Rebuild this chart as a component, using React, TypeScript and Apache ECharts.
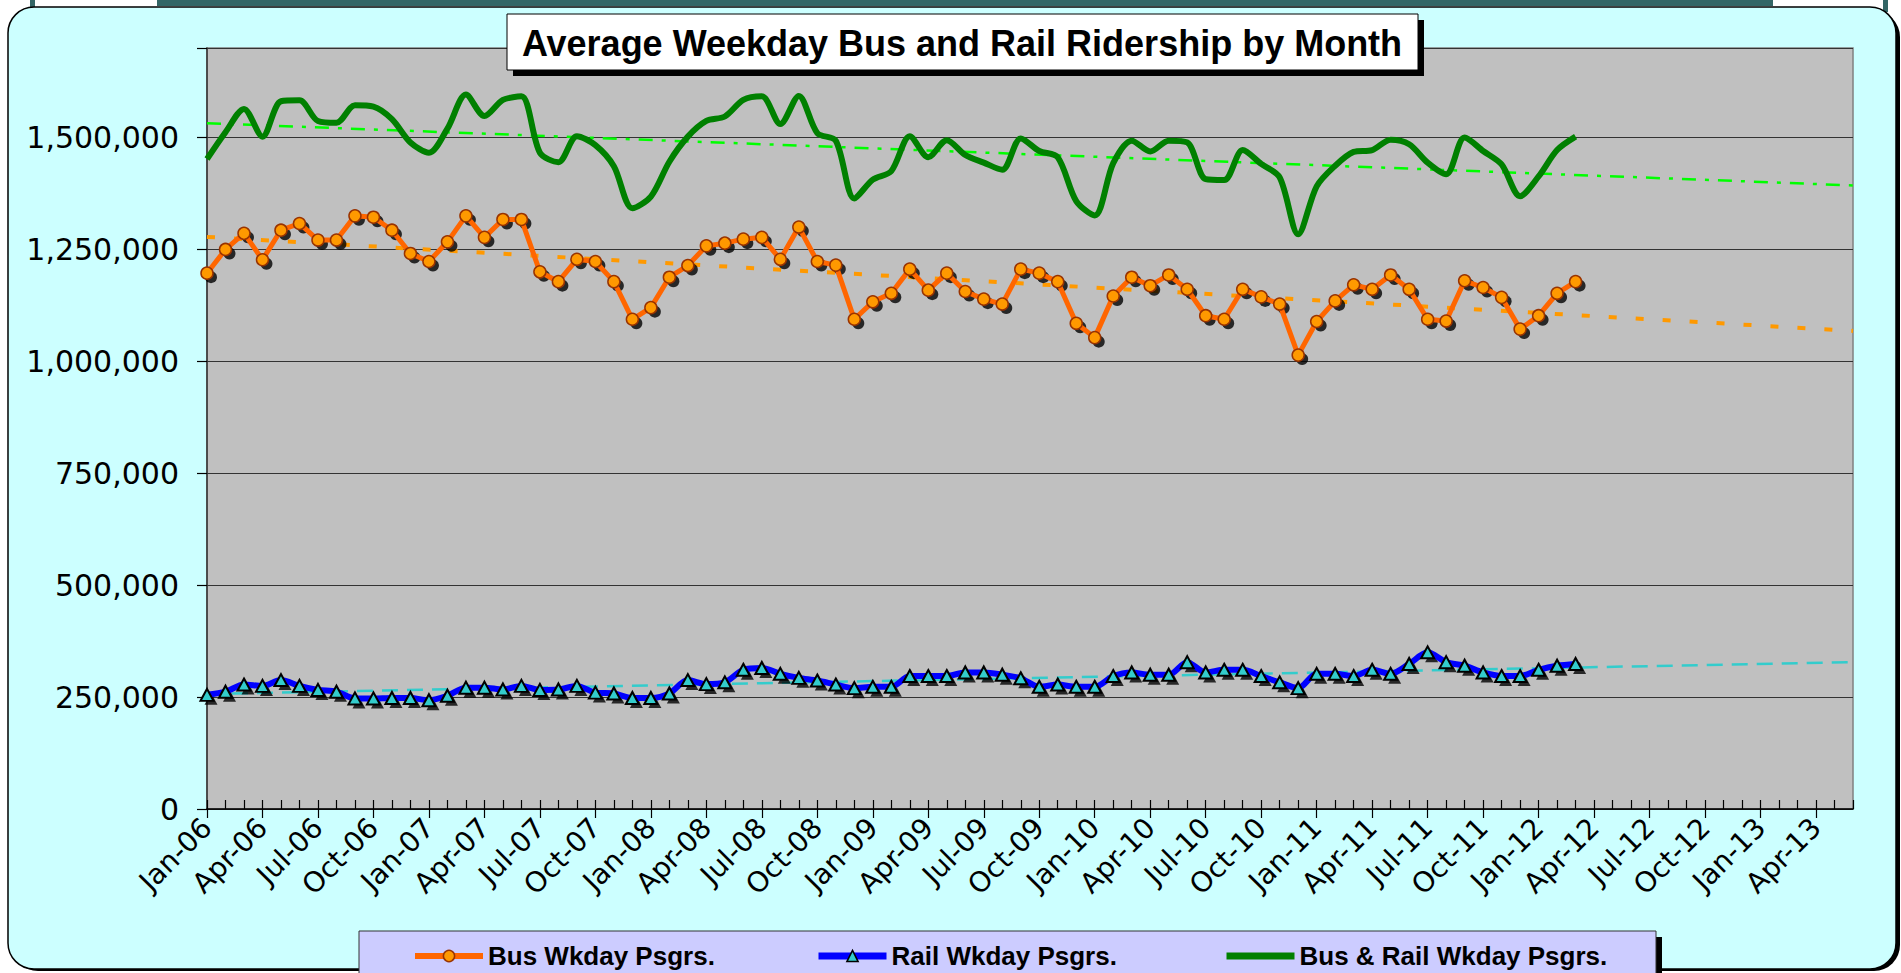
import React, { useEffect, useRef } from 'react';
import * as echarts from 'echarts';

const MONTHS = ['Jan', 'Feb', 'Mar', 'Apr', 'May', 'Jun', 'Jul', 'Aug', 'Sep', 'Oct', 'Nov', 'Dec'];
const YEARS = ['06', '07', '08', '09', '10', '11', '12', '13'];
const categories: string[] = [];
YEARS.forEach((y) => MONTHS.forEach((m) => categories.push(`${m}-${y}`)));
const axisCategories = categories.slice(0, 90); // Jan-06 .. Jun-13

const TITLE = 'Average Weekday Bus and Rail Ridership by Month';
const BUS_NAME = 'Bus Wkday Psgrs.';
const RAIL_NAME = 'Rail Wkday Psgrs.';
const TOTAL_NAME = 'Bus & Rail Wkday Psgrs.';

// Jan-06 .. Mar-12
const busRiders = [
  1197000, 1250000, 1286000, 1227000, 1293000, 1308000, 1271000, 1271000, 1325000, 1322000, 1293000, 1241000,
  1223000, 1267000, 1325000, 1277000, 1317000, 1317000, 1200000, 1178000, 1228000, 1223000, 1178000, 1094000,
  1120000, 1188000, 1214000, 1258000, 1264000, 1273000, 1277000, 1228000, 1300000, 1223000, 1215000, 1094000,
  1133000, 1152000, 1206000, 1159000, 1197000, 1156000, 1139000, 1128000, 1206000, 1197000, 1178000, 1085000,
  1053000, 1146000, 1188000, 1169000, 1193000, 1161000, 1102000, 1094000, 1161000, 1144000, 1128000, 1014000,
  1089000, 1135000, 1171000, 1161000, 1193000, 1161000, 1094000, 1090000, 1180000, 1165000, 1143000, 1072000,
  1102000, 1152000, 1178000,
];

const railRiders = [
  255000, 262000, 278000, 275000, 288000, 275000, 266000, 262000, 247000, 247000, 248000, 248000,
  243000, 253000, 271000, 271000, 267000, 275000, 266000, 267000, 275000, 260000, 258000, 248000,
  248000, 258000, 288000, 279000, 283000, 311000, 315000, 302000, 293000, 287000, 278000, 270000,
  273000, 273000, 297000, 297000, 297000, 305000, 305000, 300000, 292000, 273000, 278000, 273000,
  273000, 297000, 305000, 300000, 300000, 328000, 305000, 311000, 311000, 297000, 283000, 270000,
  302000, 302000, 297000, 311000, 302000, 324000, 350000, 328000, 320000, 305000, 297000, 297000,
  311000, 320000, 324000,
];

const totalRiders = [
  1452000, 1512000, 1564000, 1502000, 1581000, 1583000, 1537000, 1533000, 1572000, 1569000, 1541000, 1489000,
  1466000, 1520000, 1596000, 1548000, 1584000, 1592000, 1466000, 1445000, 1503000, 1483000, 1436000, 1342000,
  1368000, 1446000, 1502000, 1537000, 1547000, 1584000, 1592000, 1530000, 1593000, 1510000, 1493000, 1364000,
  1406000, 1425000, 1503000, 1456000, 1494000, 1461000, 1444000, 1428000, 1498000, 1470000, 1456000, 1358000,
  1326000, 1443000, 1493000, 1469000, 1493000, 1489000, 1407000, 1405000, 1472000, 1441000, 1411000, 1284000,
  1391000, 1437000, 1468000, 1472000, 1495000, 1485000, 1444000, 1418000, 1500000, 1470000, 1440000, 1369000,
  1413000, 1472000, 1502000,
];

// trend line end points (Jan-06, Jun-13)
const trendEnds = ['Jan-06', 'Jun-13'];
const busTrend = [1278000, 1068000];
const railTrend = [257000, 328000];
const totalTrend = [1532000, 1393000];

const yTicks = { min: 0, max: 1700000, interval: 250000 };

const FONT = 'DejaVu Sans';
const BOLD = 'Liberation Sans';

export default function App() {
  const ref = useRef<HTMLDivElement>(null);
  useEffect(() => {
    const chart = echarts.init(ref.current!, null, { renderer: 'svg' });
    const legendText = { fontFamily: BOLD, fontWeight: 'bold', fontSize: 26, color: '#000' };
    const legendBase = { top: 938, itemWidth: 68, itemHeight: 14, itemGap: 10, textStyle: legendText, selectedMode: false };
    chart.setOption({
      animation: false,
      backgroundColor: '#ffffff',
      grid: {
        left: 207,
        right: 48,
        top: 48,
        bottom: 164,
        show: true,
        backgroundColor: '#C0C0C0',
        borderColor: '#808080',
        borderWidth: 1.5,
      },
      legend: [
        {
          ...legendBase,
          left: 407,
          data: [{ name: BUS_NAME, lineStyle: { width: 6, color: '#FF6600' }, itemStyle: { color: '#FF9900', borderColor: '#993300', borderWidth: 1.5 } }],
        },
        {
          ...legendBase,
          left: 810,
          data: [{ name: RAIL_NAME, lineStyle: { width: 7, color: '#0000FF' }, itemStyle: { color: '#33CCCC', borderColor: '#000', borderWidth: 1.5 } }],
        },
        {
          ...legendBase,
          left: 1218,
          data: [{ name: TOTAL_NAME, lineStyle: { width: 7, color: '#008000' }, itemStyle: { opacity: 0 } }],
        },
      ],
      xAxis: [
        {
          type: 'category',
          data: axisCategories,
          boundaryGap: false,
          axisLine: { lineStyle: { color: '#000', width: 1.5 } },
          axisTick: { interval: 2, length: 9, lineStyle: { color: '#000', width: 1.2 } },
          axisLabel: { interval: 2, rotate: 45, margin: 14, fontFamily: FONT, fontSize: 28, color: '#000' },
          splitLine: { show: false },
        },
        {
          type: 'category',
          data: axisCategories,
          boundaryGap: false,
          position: 'bottom',
          axisLine: { show: false },
          axisTick: { inside: true, interval: 0, length: 9, lineStyle: { color: '#000', width: 1.2 } },
          axisLabel: { show: false },
          splitLine: { show: false },
        },
      ],
      yAxis: {
        type: 'value',
        min: yTicks.min,
        max: yTicks.max,
        interval: yTicks.interval,
        axisLine: { show: true, lineStyle: { color: '#333', width: 1.5 } },
        axisTick: { show: true, length: 10, lineStyle: { color: '#000', width: 1.2 } },
        axisLabel: {
          margin: 28,
          fontFamily: FONT,
          fontSize: 30,
          color: '#000',
          formatter: (v: number) => (v % yTicks.interval === 0 ? v.toLocaleString('en-US') : ''),
        },
        splitLine: { lineStyle: { color: '#333', width: 1.2 } },
      },
      graphic: {
        elements: [
          { type: 'rect', z: -30, shape: { x: 157, y: 0, width: 1616, height: 6 }, style: { fill: '#336666' } },
          { type: 'rect', z: -30, shape: { x: 30, y: 0, width: 5, height: 8 }, style: { fill: '#336666' } },
          { type: 'rect', z: -30, shape: { x: 1883, y: 0, width: 5, height: 12 }, style: { fill: '#336666' } },
          { type: 'rect', z: -25, shape: { x: 12, y: 11, width: 1888, height: 960, r: 26 }, style: { fill: '#000' } },
          {
            type: 'rect',
            z: -20,
            shape: { x: 8, y: 7, width: 1888, height: 962, r: 26 },
            style: { fill: '#CCFFFF', stroke: '#000', lineWidth: 1.5 },
          },
          { type: 'rect', z: 100, shape: { x: 513, y: 20, width: 911, height: 56 }, style: { fill: '#000' } },
          {
            type: 'rect',
            z: 101,
            shape: { x: 507, y: 14, width: 911, height: 56 },
            style: { fill: '#fff', stroke: '#000', lineWidth: 1 },
          },
          {
            type: 'text',
            z: 102,
            style: {
              text: TITLE,
              x: 962,
              y: 43,
              textAlign: 'center',
              textVerticalAlign: 'middle',
              verticalAlign: 'middle',
              fontFamily: BOLD,
              fontWeight: 'bold',
              fontSize: 36,
              fill: '#000',
            },
          },
          { type: 'rect', z: 2, shape: { x: 365, y: 937, width: 1297, height: 60 }, style: { fill: '#000' } },
          {
            type: 'rect',
            z: 3,
            shape: { x: 359, y: 931, width: 1297, height: 60 },
            style: { fill: '#CCCCFF', stroke: '#333', lineWidth: 1 },
          },
        ],
      },
      series: [
        {
          name: 'totalTrend',
          type: 'line',
          data: trendEnds.map((c, i) => [c, totalTrend[i]]),
          symbol: 'none',
          silent: true,
          z: 1,
          lineStyle: { color: '#00FF00', width: 2.5, type: [14, 9, 4, 9] },
        },
        {
          name: 'busTrend',
          type: 'line',
          data: trendEnds.map((c, i) => [c, busTrend[i]]),
          symbol: 'none',
          silent: true,
          z: 1,
          lineStyle: { color: '#FF9900', width: 4, type: [8, 19] },
        },
        {
          name: 'railTrend',
          type: 'line',
          data: trendEnds.map((c, i) => [c, railTrend[i]]),
          symbol: 'none',
          silent: true,
          z: 1,
          lineStyle: { color: '#33CCCC', width: 2.5, type: [16, 9] },
        },
        {
          name: TOTAL_NAME,
          type: 'line',
          data: totalRiders,
          smooth: 0.3,
          symbol: 'none',
          z: 2,
          lineStyle: { color: '#008000', width: 6 },
          itemStyle: { color: '#008000' },
        },
        {
          name: 'railShadow',
          type: 'scatter',
          data: railRiders,
          symbol: 'triangle',
          symbolSize: [13, 12],
          symbolOffset: [4, 4],
          silent: true,
          z: 3,
          itemStyle: { color: '#000' },
        },
        {
          name: RAIL_NAME,
          type: 'line',
          data: railRiders,
          smooth: 0.3,
          symbol: 'triangle',
          symbolSize: [13, 12],
          showAllSymbol: true,
          z: 4,
          lineStyle: { color: '#0000FF', width: 6 },
          itemStyle: { color: '#33CCCC', borderColor: '#000', borderWidth: 2 },
        },
        {
          name: 'busShadow',
          type: 'scatter',
          data: busRiders,
          symbol: 'circle',
          symbolSize: 12,
          symbolOffset: [4, 4],
          silent: true,
          z: 5,
          itemStyle: { color: '#000' },
        },
        {
          name: BUS_NAME,
          type: 'line',
          data: busRiders,
          symbol: 'circle',
          symbolSize: 12,
          showAllSymbol: true,
          z: 6,
          lineStyle: { color: '#FF6600', width: 5 },
          itemStyle: { color: '#FF9900', borderColor: '#993300', borderWidth: 1.5 },
        },
      ],
    });
    return () => chart.dispose();
  }, []);
  return <div ref={ref} style={{ position: 'fixed', left: 0, top: 0, width: 1901, height: 973 }} />;
}
